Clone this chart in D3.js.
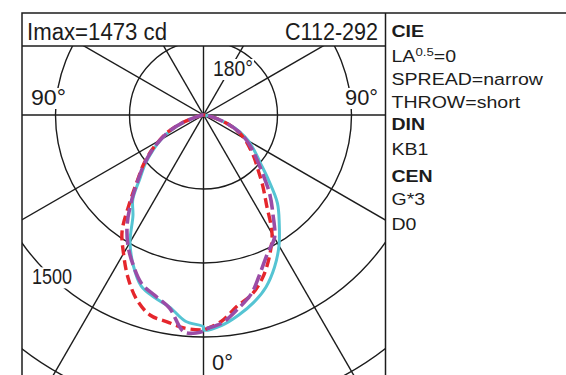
<!DOCTYPE html>
<html><head><meta charset="utf-8">
<script src="https://cdn.jsdelivr.net/npm/d3@7"></script>
<style>
html,body{margin:0;padding:0;background:#fff;}
svg{display:block;font-family:"Liberation Sans",Arial,sans-serif;}
</style>
</head><body>
<svg id="chart" width="566" height="375"></svg>
<script>
// ---- data ----
const gammaDeg = [0,5,10,15,20,25,30,35,40,45,50,55,60,65,70,75,80,85,90];
// luminous intensity (cd) per gamma, right half (C112) and left half (C292)
const cyanRight   = [1453,1426,1372,1311,1236,1135,1020,892,777,622,500,419,351,270,176,88,34,14,0];
const cyanLeft    = [1432,1399,1318,1277,1230,1122,993,831,743,608,514,419,331,243,142,54,20,7,0];
const redRight    = [1453,1399,1311,1257,1169,1054,926,743,622,520,446,378,318,250,169,88,34,14,0];
const redLeft     = [1453,1446,1419,1399,1324,1209,1081,959,777,635,534,439,345,257,149,54,20,7,0];
const purpleRight = [1453,1412,1331,1250,1128,1027,959,818,696,568,473,399,331,257,169,88,34,14,0];
const purpleLeft  = [1459,1473,1324,1264,1216,1122,1020,899,757,628,527,432,338,250,142,54,20,7,0];
const ringTicks = [500,1000,1500,2000];
const spokeAngles = [0,30,60,90,120,150];
const headerLeft = "Imax=1473 cd";
const headerRight = "C112-292";
const legendLines = [
  {t:"CIE", b:true}, {t:"LA", sup:"0.5", after:"=0"}, {t:"SPREAD=narrow"}, {t:"THROW=short"},
  {t:"DIN", b:true}, {t:"KB1"}, {t:"CEN", b:true}, {t:"G*3"}, {t:"D0"}
];

// ---- layout ----
const svg = d3.select("#chart");
const L = 22, T = 13, HB = 46, DIV = 385.5;
const cx = 203.5, cy = 115;
const r = d3.scaleLinear().domain([0,1500]).range([0,222]);
const ink = "#1c1c1c";

svg.append("rect").attr("width",566).attr("height",375).attr("fill","#fff");

const defs = svg.append("defs");
defs.append("clipPath").attr("id","plotclip").append("rect")
  .attr("x",L).attr("y",HB).attr("width",DIV-L).attr("height",400);

const plot = svg.append("g").attr("clip-path","url(#plotclip)");
const g = plot.append("g").attr("transform",`translate(${cx},${cy})`);

// rings
g.selectAll("circle.ring").data(ringTicks).join("circle")
  .attr("r", d => r(d)).attr("fill","none").attr("stroke",ink).attr("stroke-width",1.4);
// spokes (full diameters)
g.selectAll("line.spoke").data(spokeAngles).join("line")
  .attr("x1", d => -500*Math.sin(d*Math.PI/180)).attr("y1", d => 500*Math.cos(d*Math.PI/180))
  .attr("x2", d => 500*Math.sin(d*Math.PI/180)).attr("y2", d => -500*Math.cos(d*Math.PI/180))
  .attr("stroke",ink).attr("stroke-width",1.4);

// curves
function pts(right, left){
  const p = [];
  for (let i = gammaDeg.length-1; i >= 0; i--) p.push([Math.PI + gammaDeg[i]*Math.PI/180, r(left[i])]);
  for (let i = 0; i < gammaDeg.length; i++) p.push([Math.PI - gammaDeg[i]*Math.PI/180, r(right[i])]);
  return p;
}
const line = d3.lineRadial().angle(d=>d[0]).radius(d=>d[1]).curve(d3.curveCatmullRom.alpha(0.5));
const series = [
  {right:cyanRight, left:cyanLeft, color:"#55c4d3", w:3, dash:null},
  {right:redRight, left:redLeft, color:"#e5262c", w:3.4, dash:"10,5"},
  {right:purpleRight, left:purpleLeft, color:"#9b4ca6", w:3.6, dash:"16,5"}
];
series.forEach(s => {
  g.append("path").attr("d", line(pts(s.right, s.left))).attr("fill","none")
    .attr("stroke", s.color).attr("stroke-width", s.w)
    .attr("stroke-dasharray", s.dash).attr("stroke-linejoin","round");
});

// labels with white background
function label(text, x, y, anchor, len){
  const grp = svg.append("g");
  const t = grp.append("text").attr("x",x).attr("y",y).attr("text-anchor",anchor)
    .attr("font-size",21.5).attr("fill",ink).text(text);
  if (len) t.attr("textLength",len).attr("lengthAdjust","spacingAndGlyphs");
  const bb = t.node().getBBox();
  grp.insert("rect","text").attr("x",bb.x-1).attr("y",bb.y+2).attr("width",bb.width+2).attr("height",bb.height-3).attr("fill","#fff");
}
label("90°", 31, 105, "start", 35);
label("90°", 378, 105, "end", 33);
label("180°", cx+9.5, 76, "start", 40);
label("0°", cx+8.5, 370, "start", 21);
{
  const a = 43*Math.PI/180;
  label("1500", cx - r(1500)*Math.sin(a), cy + r(1500)*Math.cos(a) + 7, "middle", 40);
}

// frame
svg.append("rect").attr("x",L).attr("y",T).attr("width",700).attr("height",700)
  .attr("fill","none").attr("stroke",ink).attr("stroke-width",1.5);
svg.append("line").attr("x1",DIV).attr("x2",DIV).attr("y1",T).attr("y2",375).attr("stroke",ink).attr("stroke-width",1.5);
svg.append("line").attr("x1",L).attr("x2",DIV).attr("y1",HB).attr("y2",HB).attr("stroke",ink).attr("stroke-width",1.5);

// header
svg.append("text").attr("x",27).attr("y",40).attr("font-size",23).attr("fill",ink)
  .attr("textLength",140).attr("lengthAdjust","spacingAndGlyphs").text(headerLeft);
svg.append("text").attr("x",378).attr("y",40).attr("text-anchor","end").attr("font-size",23).attr("fill",ink)
  .attr("textLength",93).attr("lengthAdjust","spacingAndGlyphs").text(headerRight);

// legend
const lg = svg.append("g").attr("transform","translate(391.5,0) scale(1.15,1)");
const baselines = [36.7,61.7,85,108.3,130,155,181.7,205,230];
legendLines.forEach((d,i) => {
  const t = lg.append("text").attr("x",0).attr("y",baselines[i]).attr("font-size",17).attr("fill",ink)
    .attr("font-weight", d.b ? "bold" : "normal");
  t.append("tspan").text(d.t);
  if (d.sup) {
    t.append("tspan").attr("font-size",11.5).attr("dy",-6).text(d.sup);
    t.append("tspan").attr("dy",6).text(d.after);
  }
});
</script>
</body></html>
